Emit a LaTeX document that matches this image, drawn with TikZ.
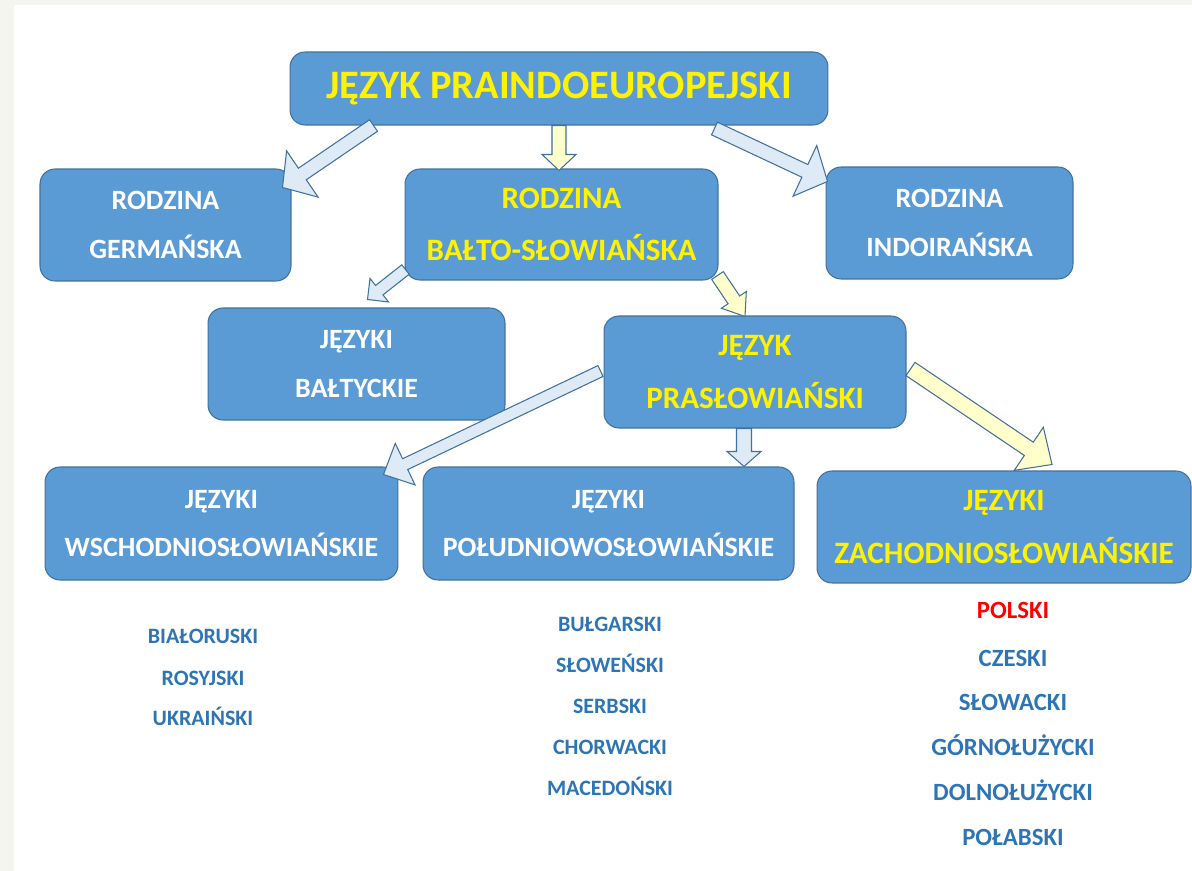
\documentclass[tikz,border=0pt]{standalone}
\usepackage{fontspec}
\setmainfont{Carlito}
\usetikzlibrary{calc}

\definecolor{boxblue}{RGB}{91,155,213}
\definecolor{edgeblue}{RGB}{65,113,156}
\definecolor{listblue}{RGB}{46,117,182}
\definecolor{paleblue}{RGB}{222,235,247}
\definecolor{paleyellow}{RGB}{255,255,204}
\definecolor{slidebg}{RGB}{244,245,238}

% #1 style, #2 tail, #3 tip, #4 half shaft, #5 half head, #6 head length
\newcommand{\blokarrow}[6]{%
  \coordinate (hb) at ($(#3)!#6!(#2)$);
  \draw[#1] ($(#2)!#4!90:(#3)$) -- ($(hb)!#4!-90:(#2)$) -- ($(hb)!#5!-90:(#2)$) -- (#3)
    -- ($(hb)!#5!90:(#2)$) -- ($(hb)!#4!90:(#2)$) -- ($(#2)!#4!-90:(#3)$) -- cycle;
}

\begin{document}
\begin{tikzpicture}[x=0.02cm,y=-0.02cm,
    box/.style={draw=edgeblue,line width=0.6pt,fill=boxblue,rounded corners=0.3cm,
      align=center,inner sep=0pt,text=white,font=\bfseries\fontsize{15.9}{27.8}\selectfont},
    yellowtxt/.style={text=yellow,font=\bfseries\fontsize{17.7}{30}\selectfont},
    toptxt/.style={text=yellow,font=\bfseries\fontsize{23}{26}\selectfont},
    lang/.style={text=listblue,inner sep=0pt,text height=8pt,text depth=0pt,
      font=\bfseries\fontsize{12.5}{15}\selectfont},
    langwest/.style={text=listblue,inner sep=0pt,text height=9pt,text depth=0pt,
      font=\bfseries\fontsize{14.1}{17}\selectfont},
    bluearr/.style={draw=edgeblue,line width=0.6pt,fill=paleblue,line join=miter},
    yelarr/.style={draw=edgeblue,line width=0.6pt,fill=paleyellow,line join=miter}]

  \useasboundingbox (0,0) rectangle (1192,871);
  \fill[slidebg] (0,0) rectangle (1192,871);
  \fill[white] (14,5) rectangle (1192,871);

  \node[box,toptxt,minimum width=10.76cm,minimum height=1.46cm] (praie) at (559,88.5) {JĘZYK PRAINDOEUROPEJSKI};

  \node[box,minimum width=5.02cm,minimum height=2.24cm] (germ) at (165.5,225) {RODZINA\\GERMAŃSKA};
  \node[box,yellowtxt,minimum width=6.26cm,minimum height=2.22cm] (balto) at (561.5,224.5) {RODZINA\\BAŁTO-SŁOWIAŃSKA};
  \node[box,minimum width=4.94cm,minimum height=2.24cm] (indo) at (949.5,223) {RODZINA\\INDOIRAŃSKA};

  \node[box,minimum width=5.94cm,minimum height=2.24cm] (baltyc) at (356.5,364) {JĘZYKI\\BAŁTYCKIE};
  \node[box,yellowtxt,minimum width=6.04cm,minimum height=2.24cm] (prasl) at (755,372) {JĘZYK\\PRASŁOWIAŃSKI};

  \node[box,minimum width=7.06cm,minimum height=2.26cm] (wsch) at (221.5,523.5) {JĘZYKI\\WSCHODNIOSŁOWIAŃSKIE};
  \node[box,minimum width=7.42cm,minimum height=2.26cm] (pold) at (608.5,523.5) {JĘZYKI\\POŁUDNIOWOSŁOWIAŃSKIE};
  \node[box,yellowtxt,minimum width=7.48cm,minimum height=2.24cm] (zach) at (1004,527) {JĘZYKI\\ZACHODNIOSŁOWIAŃSKIE};

  \coordinate (a1) at ($(praie.south west)+(84,0)$);
  \coordinate (b1) at ($(germ.north east)+(-9,19)$);
  \coordinate (a2) at (praie.south);
  \coordinate (b2) at ($(praie.south |- balto.north)+(0,2)$);
  \coordinate (a3) at ($(praie.south east)+(-114,3)$);
  \coordinate (b3) at ($(indo.north west)+(2,15)$);
  \coordinate (a4) at ($(balto.south west)+(1,-11)$);
  \coordinate (b4) at ($(baltyc.north)+(11,-8)$);
  \coordinate (a5) at ($(balto.south east)+(-1,-5)$);
  \coordinate (b5) at ($(prasl.north)+(-10,1)$);
  \coordinate (a6) at ($(prasl.west)+(-3,-1)$);
  \coordinate (b6) at ($(wsch.north east)+(-15,8)$);
  \coordinate (a7) at ($(prasl.south)+(-11,0)$);
  \coordinate (b7) at (a7 |- pold.north);
  \coordinate (a8) at ($(prasl.east)+(4,-3)$);
  \coordinate (b8) at ($(zach.north)+(48,-6)$);

  \blokarrow{bluearr}{a1}{b1}{0.14cm}{0.56cm}{0.48cm}
  \blokarrow{yelarr}{a2}{b2}{0.14cm}{0.34cm}{0.32cm}
  \blokarrow{bluearr}{a3}{b3}{0.14cm}{0.56cm}{0.5cm}
  \blokarrow{bluearr}{a4}{b4}{0.12cm}{0.3cm}{0.3cm}
  \blokarrow{yelarr}{a5}{b5}{0.14cm}{0.3cm}{0.4cm}
  \blokarrow{bluearr}{a6}{b6}{0.12cm}{0.46cm}{0.48cm}
  \blokarrow{bluearr}{a7}{b7}{0.15cm}{0.34cm}{0.3cm}
  \blokarrow{yelarr}{a8}{b8}{0.16cm}{0.52cm}{0.56cm}

  \node[lang] (bial) at (203,636) {BIAŁORUSKI};
  \node[lang] (ros) at (203,678) {ROSYJSKI};
  \node[lang] (ukr) at (203,718) {UKRAIŃSKI};

  \node[lang] (bulg) at (610,624) {BUŁGARSKI};
  \node[lang] (slow) at (610,665) {SŁOWEŃSKI};
  \node[lang] (serb) at (610,706) {SERBSKI};
  \node[lang] (chorw) at (610,747) {CHORWACKI};
  \node[lang] (maced) at (610,788) {MACEDOŃSKI};

  \node[langwest,text=red] (pol) at (1013,611) {POLSKI};
  \node[langwest] (czes) at (1013,659) {CZESKI};
  \node[langwest] (slowa) at (1013,703) {SŁOWACKI};
  \node[langwest] (gluz) at (1013,748) {GÓRNOŁUŻYCKI};
  \node[langwest] (dluz) at (1013,793) {DOLNOŁUŻYCKI};
  \node[langwest] (polab) at (1013,838) {POŁABSKI};
\end{tikzpicture}
\end{document}
